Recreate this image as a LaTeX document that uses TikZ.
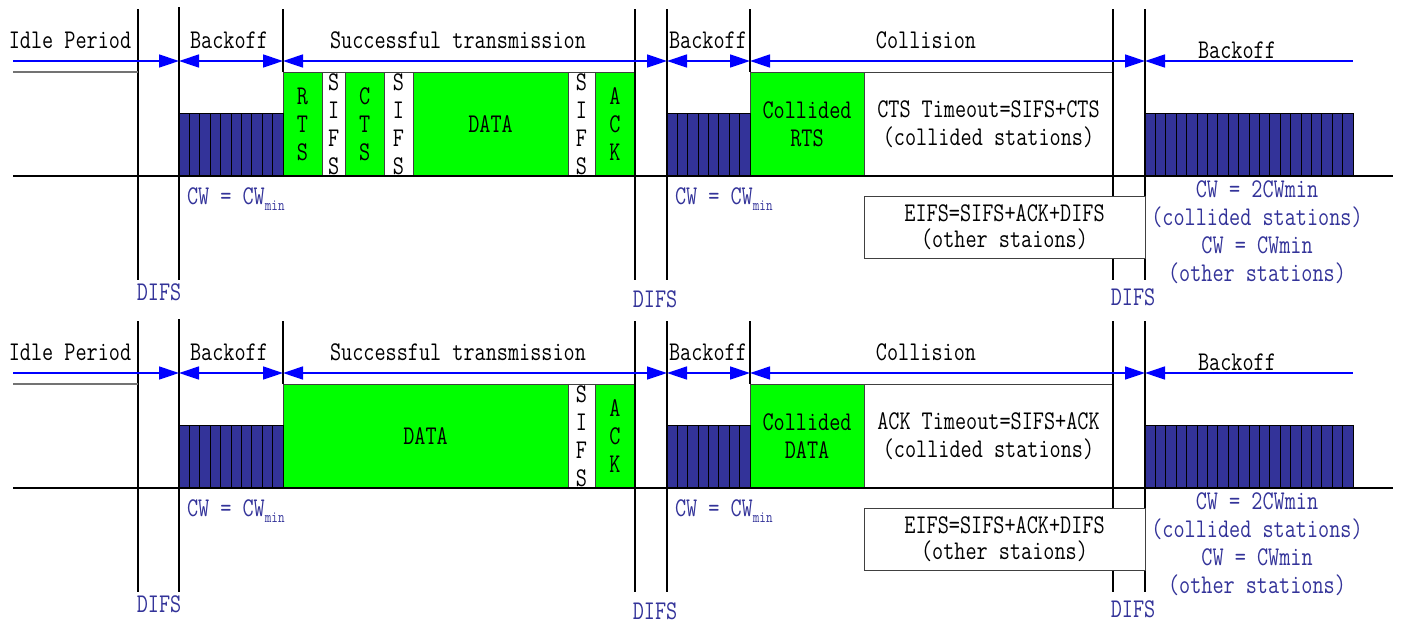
\documentclass[tikz,border=0pt]{standalone}
\usepackage{fontspec}
\setmainfont{Latin Modern Mono}[FakeStretch=0.8]
\usetikzlibrary{arrows.meta}

\definecolor{pktgreen}{RGB}{0,255,0}
\definecolor{slotblue}{RGB}{51,51,153}
\definecolor{navblue}{RGB}{0,0,255}

\tikzset{
  period/.style={navblue, line width=1.4pt, -{Triangle[length=20pt,width=13pt]}},
  both/.style={period, {Triangle[length=20pt,width=13pt]}-{Triangle[length=20pt,width=13pt]}},
  back/.style={period, {Triangle[length=20pt,width=13pt]}-},
  timeline/.style={line width=1.3pt},
  slots/.style={draw, fill=slotblue, line width=0.9pt},
  pkt/.style={draw=black!75, fill=pktgreen, line width=1pt, minimum height=104pt, anchor=south west, align=center},
  gap/.style={pkt, fill=white},
  note/.style={text=slotblue, align=center},
}

\begin{document}
\begin{tikzpicture}[x=1pt, y=-1pt, every node/.style={font=\fontsize{27}{28}\selectfont, inner sep=0pt, outer sep=0pt}]
    \useasboundingbox (0,0) rectangle (1403,625);

    % RTS/CTS exchange
    \node[pkt, minimum width=39pt] (rtsA) at (283,176) {R\\T\\S};
    \node[gap, minimum width=23.5pt] (sifs1A) at (rtsA.south east) {S\\I\\F\\S};
    \node[pkt, minimum width=38.5pt] (ctsA) at (sifs1A.south east) {C\\T\\S};
    \node[gap, minimum width=29pt] (sifs2A) at (ctsA.south east) {S\\I\\F\\S};
    \node[pkt, minimum width=155pt] (dataA) at (sifs2A.south east) {DATA};
    \node[gap, minimum width=27pt] (sifs3A) at (dataA.south east) {S\\I\\F\\S};
    \node[pkt, minimum width=40pt] (ackA) at (sifs3A.south east) {A\\C\\K};
    \node[pkt, minimum width=114pt] (crtsA) at (750,176) {Collided\\RTS};
    \node[gap, minimum width=249pt] (ctoA) at (crtsA.south east) {CTS Timeout=SIFS+CTS\\(collided stations)};

    % basic access
    \begin{scope}[yshift=-312pt]
        \node[pkt, minimum width=285pt] (dataB) at (283,176) {DATA};
        \node[gap, minimum width=27pt] (sifsB) at (dataB.south east) {S\\I\\F\\S};
        \node[pkt, minimum width=40pt] (ackB) at (sifsB.south east) {A\\C\\K};
        \node[pkt, minimum width=114pt] (cdataB) at (750,176) {Collided\\DATA};
        \node[gap, minimum width=249pt] (atoB) at (cdataB.south east) {ACK Timeout=SIFS+ACK\\(collided stations)};
    \end{scope}

    \foreach \p/\dy in {a/0, b/312}{
    \begin{scope}[yshift=-\dy pt]
        \foreach \n/\x/\t/\b in {1/138/9/280, 2/179/7/280, 3/283/9/72, 4/635/9/280, 5/667/9/280, 6/750/9/72, 7/1113/9/280, 8/1145/9/280}{
            \coordinate (t\n\p) at (\x,\t);
            \coordinate (b\n\p) at (\x,\b);
            \coordinate (m\n\p) at (\x,61);
            \draw[timeline] (t\n\p) -- (b\n\p);
        }
        % backoff slots
        \foreach \x/\w/\k in {179/104/10, 667/83/8, 1145/208/20}{
            \draw[slots] (\x,113) rectangle ++(\w,63);
            \foreach \i in {1,...,\k} \draw[line width=0.9pt] ({\x+\i*\w/\k},113) -- ++(0,63);
        }
        \coordinate (g0\p) at (13,72);
        \coordinate (g1\p) at (138,72);
        \draw[black!55, line width=1.3pt] (g0\p) -- (g1\p);
        \coordinate (l\p) at (13,176);
        \coordinate (r\p) at (1393,176);
        \draw[line width=1.6pt] (l\p) -- (r\p);

        \node (idle\p) at (70,40) {Idle Period};
        \node (bo1\p) at (229,40) {Backoff};
        \node (succ\p) at (458,40) {Successful transmission};
        \node (bo2\p) at (708,40) {Backoff};
        \node (coll\p) at (926,40) {Collision};
        \node (bo3\p) at (1237,50) {Backoff};

        \coordinate (s\p) at (13,61);
        \coordinate (e\p) at (1353,61);
        \draw[period] (s\p) -- (m2\p);
        \draw[both] (m2\p) -- (m3\p);
        \draw[both] (m3\p) -- (m5\p);
        \draw[both] (m5\p) -- (m6\p);
        \draw[both] (m6\p) -- (m8\p);
        \draw[back] (m8\p) -- (e\p);

        \node[gap, minimum width=281pt, minimum height=62pt, font=\fontsize{27}{26}\selectfont] (eifs\p) at (864,258) {EIFS=SIFS+ACK+DIFS\\(other staions)};

        \node[note, anchor=west] (cw1\p) at (187,199) {CW = CW\raisebox{-0.5ex}{\fontsize{16}{16}\selectfont min}};
        \node[note, anchor=west] (cw2\p) at (675,199) {CW = CW\raisebox{-0.5ex}{\fontsize{16}{16}\selectfont min}};
        \node[note] (cw3\p) at (1257,232) {CW = 2CWmin\\(collided stations)\\CW = CWmin\\(other stations)};
        \node[note] (difs1\p) at (159,292) {DIFS};
        \node[note] (difs2\p) at (655,299) {DIFS};
        \node[note] (difs3\p) at (1133,297) {DIFS};
    \end{scope}
    }
\end{tikzpicture}
\end{document}
